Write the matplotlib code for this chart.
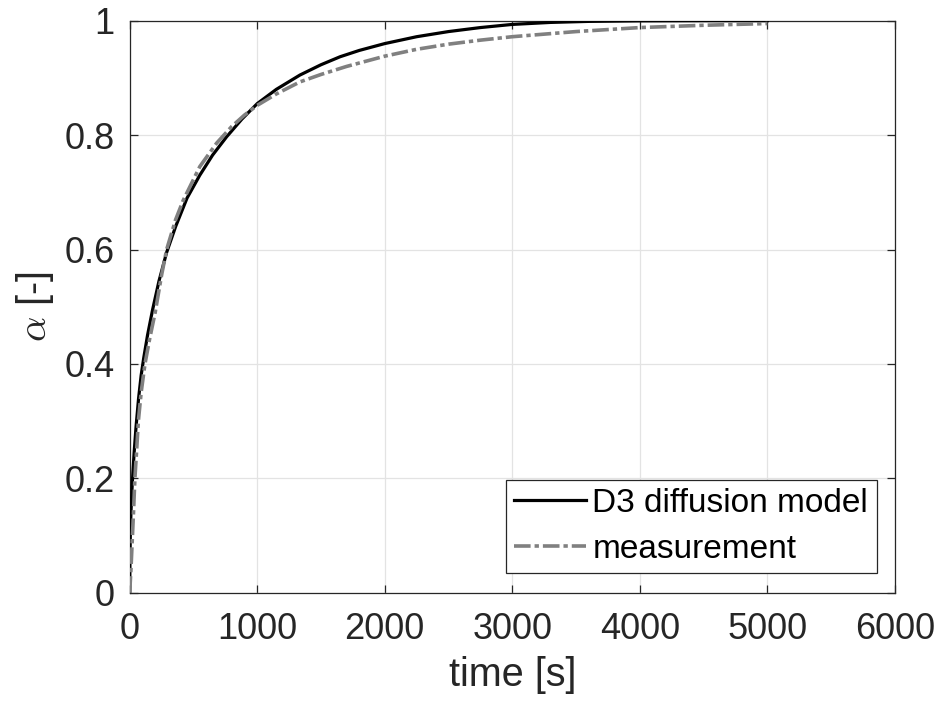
import matplotlib
matplotlib.use('Agg')
import matplotlib.pyplot as plt

# D3 diffusion model curve (time [s], alpha [-])
model_t = [0, 2, 5, 10, 20, 35, 50, 70, 90, 110, 140, 180, 230, 290, 360,
           450, 550, 650, 760, 880, 1000, 1150, 1335, 1500, 1650, 1800,
           2000, 2250, 2500, 2750, 3000, 3300, 3600, 4000, 4500, 5000]
model_a = [0, 0.06, 0.10, 0.14, 0.19, 0.245, 0.29, 0.34, 0.38, 0.41, 0.45,
           0.495, 0.545, 0.595, 0.64, 0.69, 0.73, 0.765, 0.797, 0.828, 0.855,
           0.88, 0.905, 0.923, 0.937, 0.948, 0.960, 0.972, 0.981, 0.988,
           0.9935, 0.997, 0.9988, 0.9997, 1.0, 1.0]

# measurement curve
meas_t = [0, 5, 10, 20, 30, 41, 55, 68, 90, 120, 155, 200, 250, 290, 360,
          420, 550, 682, 800, 900, 1000, 1150, 1335, 1500, 1700, 2000, 2250,
          2500, 2750, 3000, 3500, 4000, 4500, 5000]
meas_a = [0, 0.02, 0.04, 0.09, 0.14, 0.20, 0.25, 0.30, 0.35, 0.40, 0.442,
          0.49, 0.555, 0.60, 0.652, 0.686, 0.745, 0.786, 0.815, 0.835, 0.852,
          0.872, 0.893, 0.906, 0.920, 0.938, 0.950, 0.959, 0.966, 0.972,
          0.981, 0.988, 0.992, 0.995]

xticks = [0, 1000, 2000, 3000, 4000, 5000, 6000]
yticks = [0, 0.2, 0.4, 0.6, 0.8, 1.0]
ytick_labels = ['0', '0.2', '0.4', '0.6', '0.8', '1']

plt.rcParams['font.family'] = ['Liberation Sans', 'DejaVu Sans']
plt.rcParams['mathtext.fontset'] = 'cm'

axcol = '#262626'

fig = plt.figure(figsize=(9.43, 7.04), dpi=100)
ax = fig.add_axes([0.1375, 0.158, 0.8115, 0.8126])

ax.plot(model_t, model_a, color='black', lw=2.3, label='D3 diffusion model', zorder=3)
ax.plot(meas_t, meas_a, color='#808080', lw=2.6, linestyle=(0, (4.6, 1.1, 1.2, 1.1)),
        label='measurement', zorder=3)

ax.set_xlim(0, 6000)
ax.set_ylim(0, 1)
ax.set_xticks(xticks)
ax.set_yticks(yticks)
ax.set_yticklabels(ytick_labels)

ax.grid(True, color='#e3e3e3', lw=0.9, zorder=0)
ax.set_axisbelow(True)
for s in ax.spines.values():
    s.set_color(axcol)
    s.set_linewidth(0.9)
ax.tick_params(direction='in', length=6, width=0.9, colors=axcol,
               top=True, right=True, labelsize=26)
ax.tick_params(axis='x', pad=14)
ax.tick_params(axis='y', pad=11)

ax.set_xlabel('time [s]', fontsize=28.5, color=axcol, labelpad=6)
ax.set_ylabel(r'$\alpha$ [-]', fontsize=28.5, color=axcol, labelpad=6)

leg = ax.legend(loc='lower right', bbox_to_anchor=(0.976, 0.0344), borderaxespad=0,
                fontsize=24, handlelength=2.15, handletextpad=0.2,
                labelspacing=0.44, borderpad=0.25, fancybox=False,
                framealpha=1, edgecolor=axcol)
leg.get_frame().set_linewidth(0.9)

fig.savefig('out.png', dpi=100)
